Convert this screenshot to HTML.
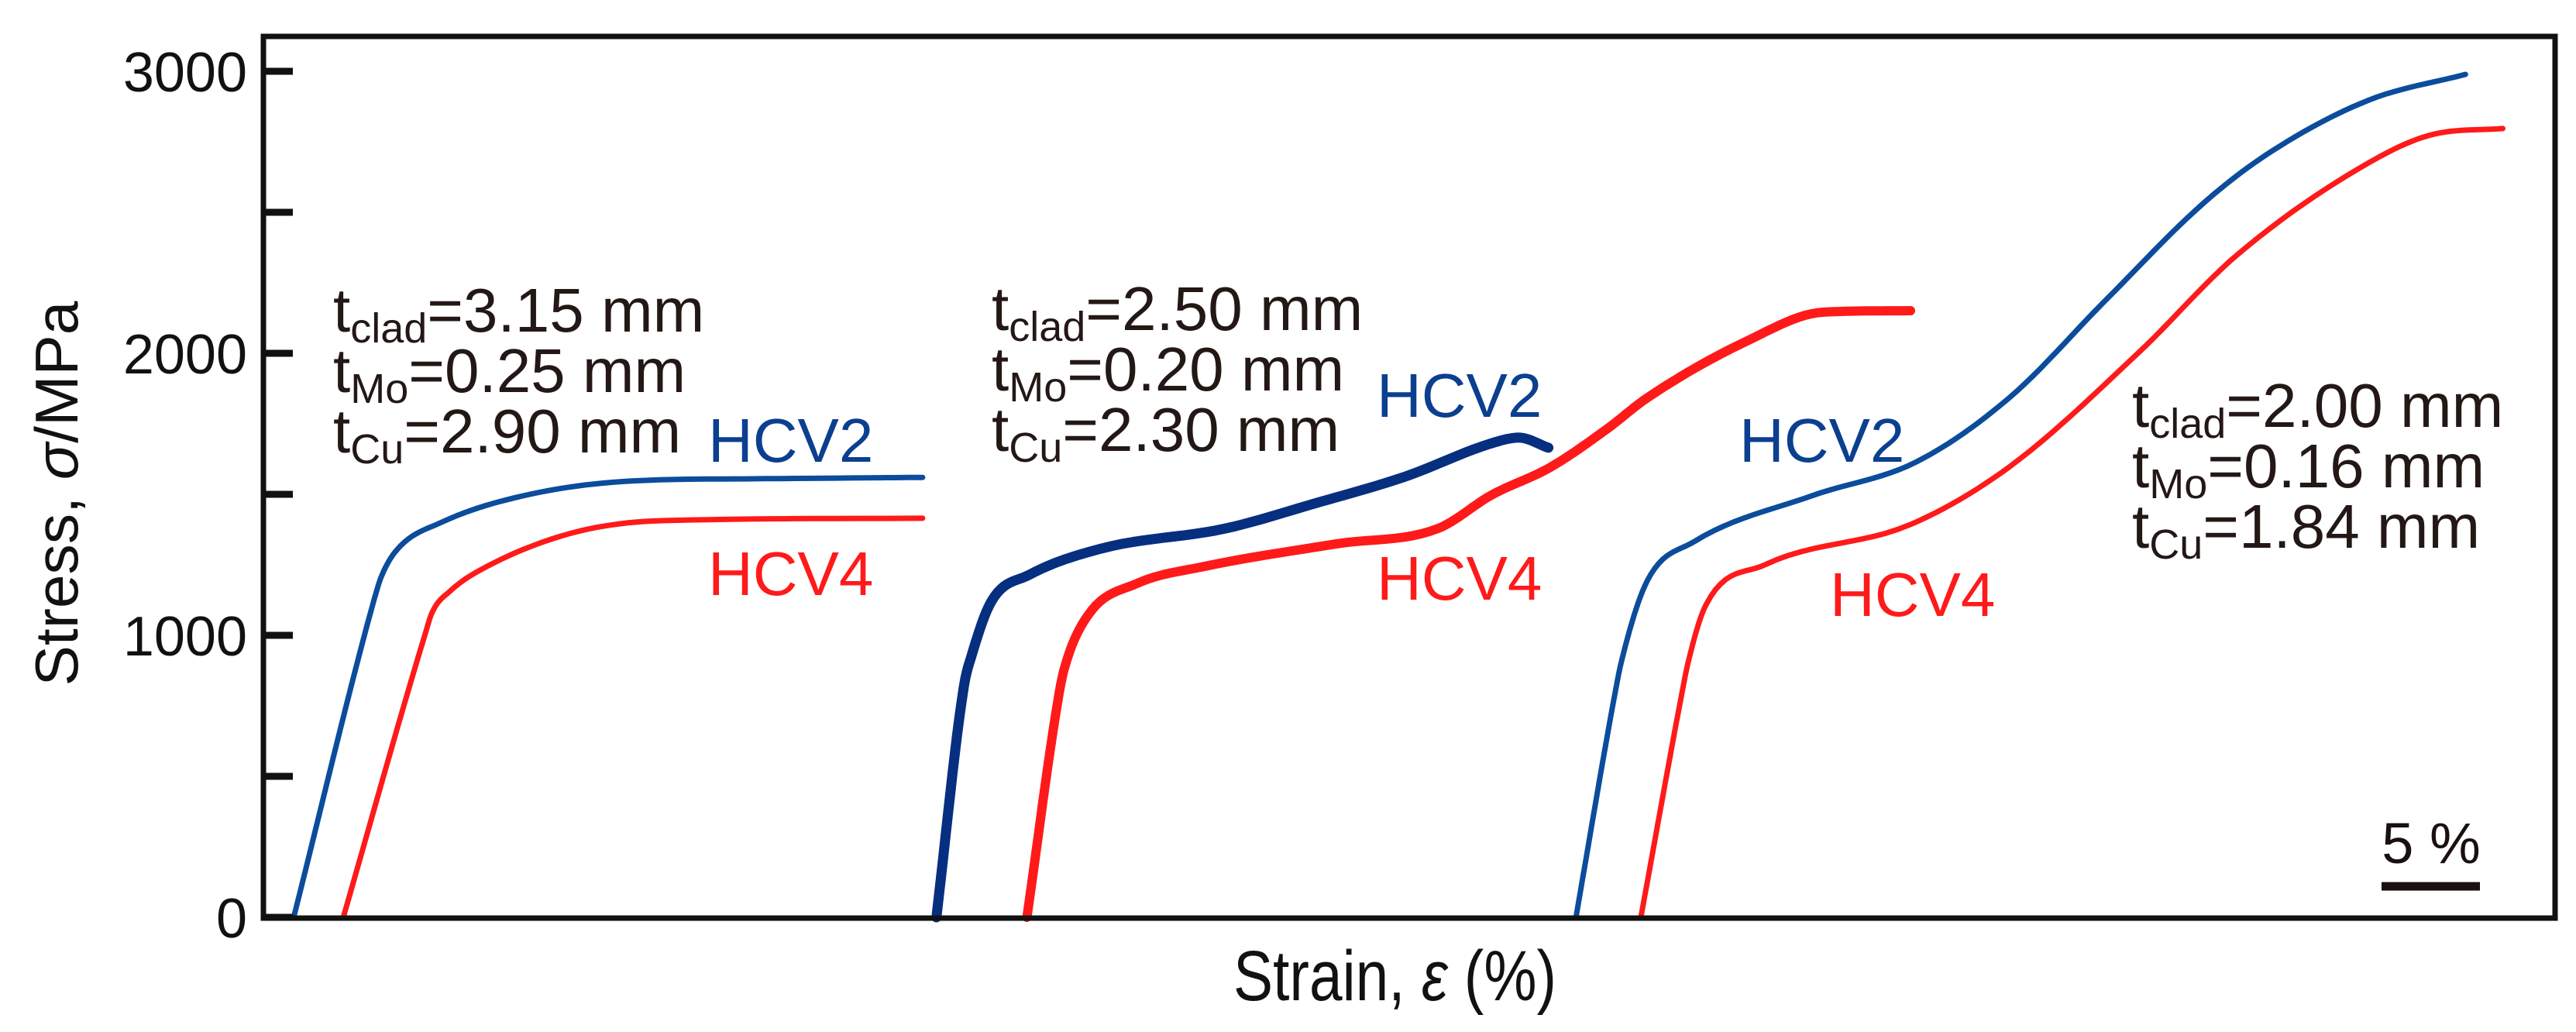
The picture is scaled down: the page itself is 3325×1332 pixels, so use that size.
<!DOCTYPE html>
<html><head><meta charset="utf-8"><style>
html,body{margin:0;padding:0;background:#fff}
svg{display:block}
text{font-family:"Liberation Sans",sans-serif}
</style></head><body>
<svg id="chart" width="3325" height="1332" viewBox="0 0 3325 1332" xmlns="http://www.w3.org/2000/svg">
<g id="marks"></g>
<g id="axes"></g>
<g id="labels"></g>
</svg>
<script>
const yTicks = [0, 500, 1000, 1500, 2000, 2500, 3000];
const yTickLabels = ["0", "", "1000", "", "2000", "", "3000"];
// strain (%) / stress (MPa)
const s1BlueStrain = [1.54, 5.6, 5.98, 6.77, 9.06, 13.54, 19.2, 24.8, 33.5];
const s1BlueStress = [0, 1120, 1206, 1302, 1401, 1500, 1549, 1555, 1560];
const s1RedStrain = [4.06, 8.2, 8.58, 9.49, 11.3, 15.8, 20.4, 33.5];
const s1RedStress = [0, 1000, 1082, 1157, 1242, 1365, 1407, 1415];
const s2BlueStrain = [34.2, 35.6, 36.0, 37.0, 38.9, 42.6, 48.9, 53.4, 57.9, 62.7, 63.8, 65.3];
const s2BlueStress = [0, 820, 931, 1121, 1214, 1308, 1379, 1467, 1560, 1687, 1701, 1665];
const s2RedStrain = [38.8, 40.4, 40.7, 41.9, 44.4, 47.8, 54.5, 59.7, 62.4, 65.4, 68.3, 70.3, 75.4, 79.3, 83.7];
const s2RedStress = [0, 780, 882, 1071, 1184, 1244, 1324, 1379, 1497, 1596, 1733, 1841, 2044, 2146, 2151];
const s3BlueStrain = [66.7, 68.7, 69.0, 70.3, 72.7, 78.7, 84.0, 88.7, 93.6, 98.6, 102.0, 107.0, 111.9];
const s3BlueStress = [0, 800, 904, 1190, 1332, 1495, 1615, 1841, 2187, 2533, 2714, 2898, 2989];
const s3RedStrain = [70.0, 72.1, 72.4, 73.3, 76.3, 83.7, 88.7, 95.3, 100.3, 107.0, 110.3, 113.8];
const s3RedStress = [0, 800, 904, 1107, 1250, 1393, 1596, 2003, 2349, 2676, 2777, 2797];
const scaleBarStrain = 5;

const NS = "http://www.w3.org/2000/svg";
const X0 = 340, XPX = 25.4, Y0 = 1184, YPX = 0.364;
function xs(v){ return X0 + v * XPX; }
function ys(v){ return Y0 - v * YPX; }
function mk(tag, attrs, parent){ const e = document.createElementNS(NS, tag); for (const k in attrs) e.setAttribute(k, attrs[k]); parent.appendChild(e); return e; }
const marks = document.getElementById('marks'), axes = document.getElementById('axes'), labels = document.getElementById('labels');

// monotone cubic (Fritsch-Carlson) in strain
function monoPath(xa, ya){
  const n = xa.length, d = [], m = new Array(n);
  for (let i = 0; i < n - 1; i++) d.push((ya[i+1]-ya[i])/(xa[i+1]-xa[i]));
  m[0] = d[0]; m[n-1] = d[n-2];
  for (let i = 1; i < n - 1; i++) m[i] = (d[i-1]*d[i] <= 0) ? 0 : (d[i-1]+d[i])/2;
  for (let i = 0; i < n - 1; i++){
    if (d[i] === 0){ m[i] = 0; m[i+1] = 0; continue; }
    const a = m[i]/d[i], b = m[i+1]/d[i], s = a*a + b*b;
    if (s > 9){ const t = 3/Math.sqrt(s); m[i] = t*a*d[i]; m[i+1] = t*b*d[i]; }
  }
  let path = "M" + xs(xa[0]).toFixed(1) + "," + ys(ya[0]).toFixed(1);
  for (let i = 0; i < n - 1; i++){
    const h = xa[i+1]-xa[i];
    for (let k = 1; k <= 12; k++){
      const t = k/12, t2 = t*t, t3 = t2*t;
      const v = (2*t3-3*t2+1)*ya[i] + (t3-2*t2+t)*h*m[i] + (-2*t3+3*t2)*ya[i+1] + (t3-t2)*h*m[i+1];
      path += " L" + xs(xa[i]+t*h).toFixed(1) + "," + ys(v).toFixed(1);
    }
  }
  return path;
}
function series(xa, ya, color, w, name){
  const el = mk('path', {d: monoPath(xa, ya), fill: 'none', stroke: color, 'stroke-width': w, 'stroke-linejoin': 'round', 'stroke-linecap': 'round'}, marks);
  
  
}
series(s1BlueStrain, s1BlueStress, '#0b4c9c', 7, 'curve-set1-hcv2');
series(s1RedStrain, s1RedStress, '#ff1a1a', 7, 'curve-set1-hcv4');
series(s2BlueStrain, s2BlueStress, '#062f80', 13, 'curve-set2-hcv2');
series(s2RedStrain, s2RedStress, '#ff1a1a', 12, 'curve-set2-hcv4');
series(s3BlueStrain, s3BlueStress, '#0b4c9c', 7, 'curve-set3-hcv2');
series(s3RedStrain, s3RedStress, '#ff1a1a', 7, 'curve-set3-hcv4');

const fr = mk('rect', {x: 340, y: 47, width: 2958, height: 1138, fill: 'none', stroke: '#111', 'stroke-width': 7}, axes);


yTicks.forEach((v, i) => {
  const t = mk('line', {x1: 340, x2: 378, y1: ys(v), y2: ys(v), stroke: '#111', 'stroke-width': 9}, axes);
  
  
  if (yTickLabels[i]) {
    const tl = mk('text', {x: 319, y: ys(v) + 26, 'text-anchor': 'end', 'font-size': 72, fill: '#111'}, axes);
    tl.textContent = yTickLabels[i];
    
    
  }
});
const yl = mk('text', {x: 0, y: 0, transform: 'translate(100,637) rotate(-90)', 'text-anchor': 'middle', 'font-size': 78, fill: '#111', textLength: 497, lengthAdjust: 'spacingAndGlyphs'}, axes);
yl.innerHTML = 'Stress, <tspan font-style="italic">σ</tspan>/MPa';


const xl = mk('text', {x: 1592, y: 1291, 'font-size': 92, fill: '#111', textLength: 417, lengthAdjust: 'spacingAndGlyphs'}, axes);
xl.innerHTML = 'Strain, <tspan font-style="italic">ε</tspan> (%)';



const sb = mk('line', {x1: 3074, x2: 3074 + scaleBarStrain * XPX, y1: 1144, y2: 1144, stroke: '#1a1010', 'stroke-width': 11}, labels);


const sbt = mk('text', {x: 3138, y: 1114, 'text-anchor': 'middle', 'font-size': 74, fill: '#1a1010'}, labels);
sbt.textContent = '5 %';



function block(x, y0, vals, name){
  const subs = ['clad', 'Mo', 'Cu'];
  vals.forEach((v, i) => {
    const t = mk('text', {x: x, y: y0 + i * 78, 'font-size': 80, fill: '#231815'}, labels);
    t.innerHTML = 't<tspan font-size="54" dy="14">' + subs[i] + '</tspan><tspan dy="-14">=' + v + ' mm</tspan>';
    
    
  });
}
block(430, 428, ['3.15', '0.25', '2.90'], 'set1-thickness');
block(1280, 426, ['2.50', '0.20', '2.30'], 'set2-thickness');
block(2752, 551, ['2.00', '0.16', '1.84'], 'set3-thickness');

function lab(x, y, txt, color, name){
  const t = mk('text', {x: x, y: y, 'font-size': 80, fill: color}, labels);
  t.textContent = txt;
  
  
}
lab(914, 596, 'HCV2', '#0b3f8f', 'label-set1-hcv2');
lab(914, 768, 'HCV4', '#ff1a1a', 'label-set1-hcv4');
lab(1777, 538, 'HCV2', '#0b3f8f', 'label-set2-hcv2');
lab(1777, 774, 'HCV4', '#ff1a1a', 'label-set2-hcv4');
lab(2245, 596, 'HCV2', '#0b3f8f', 'label-set3-hcv2');
lab(2362, 795, 'HCV4', '#ff1a1a', 'label-set3-hcv4');
</script>
</body></html>
